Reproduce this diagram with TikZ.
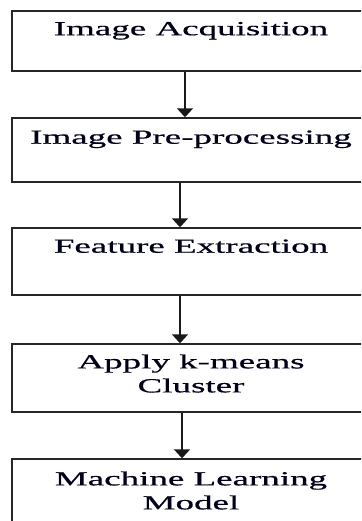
\documentclass[tikz,border=0pt]{standalone}
\usepackage{fontspec}
\newfontfamily\stepfont[FakeStretch=1.85,FakeBold=0.6]{Liberation Serif}
\usetikzlibrary{arrows.meta}

\begin{document}
\begin{tikzpicture}[x=1pt, y=-1pt,
    stage/.style={draw=black!85, line width=1.4pt, minimum width=358pt, inner sep=0pt},
    caption/.style={anchor=north, align=center, inner sep=0pt,
        font=\stepfont\fontsize{20}{24}\selectfont, text=black!90!blue},
    flow/.style={-{Triangle[width=16pt,length=9pt]}, line width=1.8pt, black!90}]

    \useasboundingbox (0, 0) rectangle (361, 521);
    \clip (0, 0) rectangle (361, 521);

    % boxes
    \node[stage, minimum height=60pt] at (191, 41) (b1) {};
    \node[stage, minimum height=64pt] at (191, 150) (b2) {};
    \node[stage, minimum height=67pt] at (191, 261.5) (b3) {};
    \node[stage, minimum height=68pt] at (191, 378) (b4) {};
    \node[stage, minimum height=71pt] at (191, 494.5) (b5) {};

    % texts
    \node[caption] at ([yshift=-11.5pt]b1.north) (t1) {Image Acquisition};
    \node[caption] at ([yshift=-13pt]b2.north) (t2) {Image Pre-processing};
    \node[caption] at ([yshift=-12pt]b3.north) (t3) {Feature Extraction};
    \node[caption] at ([yshift=-11pt]b4.north) (t4) {Apply k-means\\Cluster};
    \node[caption] at ([yshift=-13pt]b5.north) (t5) {Machine Learning\\Model};

    % arrows
    \draw[flow] ([xshift=-6pt]b1.south) -- ([xshift=-6pt]b2.north);
    \draw[flow] ([xshift=-11pt]b2.south) -- ([xshift=-11pt]b3.north);
    \draw[flow] ([xshift=-11pt]b3.south) -- ([xshift=-11pt]b4.north);
    \draw[flow] ([xshift=-9pt]b4.south) -- ([xshift=-9pt]b5.north);
\end{tikzpicture}
\end{document}
